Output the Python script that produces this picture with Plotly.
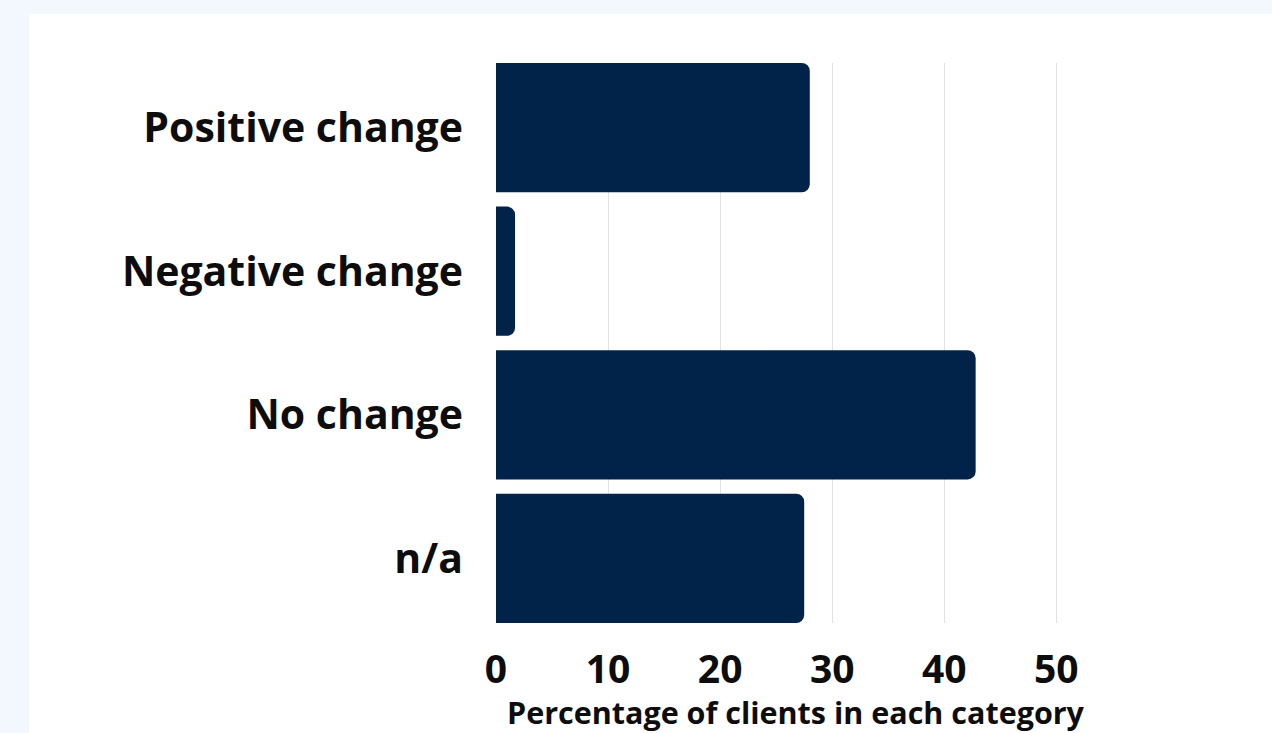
import plotly.graph_objects as go

# Share of clients per outcome category (%)
categories = ["Positive change", "Negative change", "No change", "n/a"]
percentages = [28.0, 1.7, 42.8, 27.5]
x_ticks = [0, 10, 20, 30, 40, 50]

W, H = 1272, 733
M_L, M_R, M_T, M_B = 496, 177, 63, 110
plot_w = W - M_L - M_R
plot_h = H - M_T - M_B

def px_to_paper_x(px):
    return (px - M_L) / plot_w

def px_to_paper_y(py):
    return (H - M_B - py) / plot_h

FONT = "Open Sans"
NAVY = "#01234a"
INK = "#0d0d0d"

fig = go.Figure(
    go.Bar(
        x=percentages,
        y=categories,
        orientation="h",
        marker=dict(color=NAVY, line=dict(width=0), cornerradius=8),
        hoverinfo="x+y",
    )
)

fig.update_layout(
    width=W,
    height=H,
    margin=dict(l=M_L, r=M_R, t=M_T, b=M_B, pad=0),
    paper_bgcolor="#f3f8fe",
    plot_bgcolor="#ffffff",
    bargap=0.1,
    showlegend=False,
    shapes=[
        dict(
            type="rect",
            xref="paper", yref="paper",
            x0=px_to_paper_x(29), x1=px_to_paper_x(W + 10),
            y0=px_to_paper_y(H + 10), y1=px_to_paper_y(14),
            fillcolor="#ffffff", line=dict(width=0), layer="below",
        )
    ],
)

fig.update_xaxes(
    range=[0, 53.45],
    tickvals=x_ticks,
    ticktext=[str(v) for v in x_ticks],
    showgrid=True,
    gridcolor="#e2e2e2",
    gridwidth=1,
    zeroline=False,
    showline=False,
    ticks="",
    tickfont=dict(family=FONT, size=39, color=INK, weight="bold"),
    ticklabelstandoff=20,
    title=dict(
        text="Percentage of clients in each category",
        font=dict(family=FONT, size=30.5, color=INK, weight="bold"),
        standoff=5,
    ),
)

fig.update_yaxes(
    range=[3.45, -0.45],
    showgrid=False,
    zeroline=False,
    showline=False,
    ticks="",
    tickfont=dict(family=FONT, size=41, color=INK, weight="bold"),
    ticklabelstandoff=32,
)

fig.write_html("out.html")
